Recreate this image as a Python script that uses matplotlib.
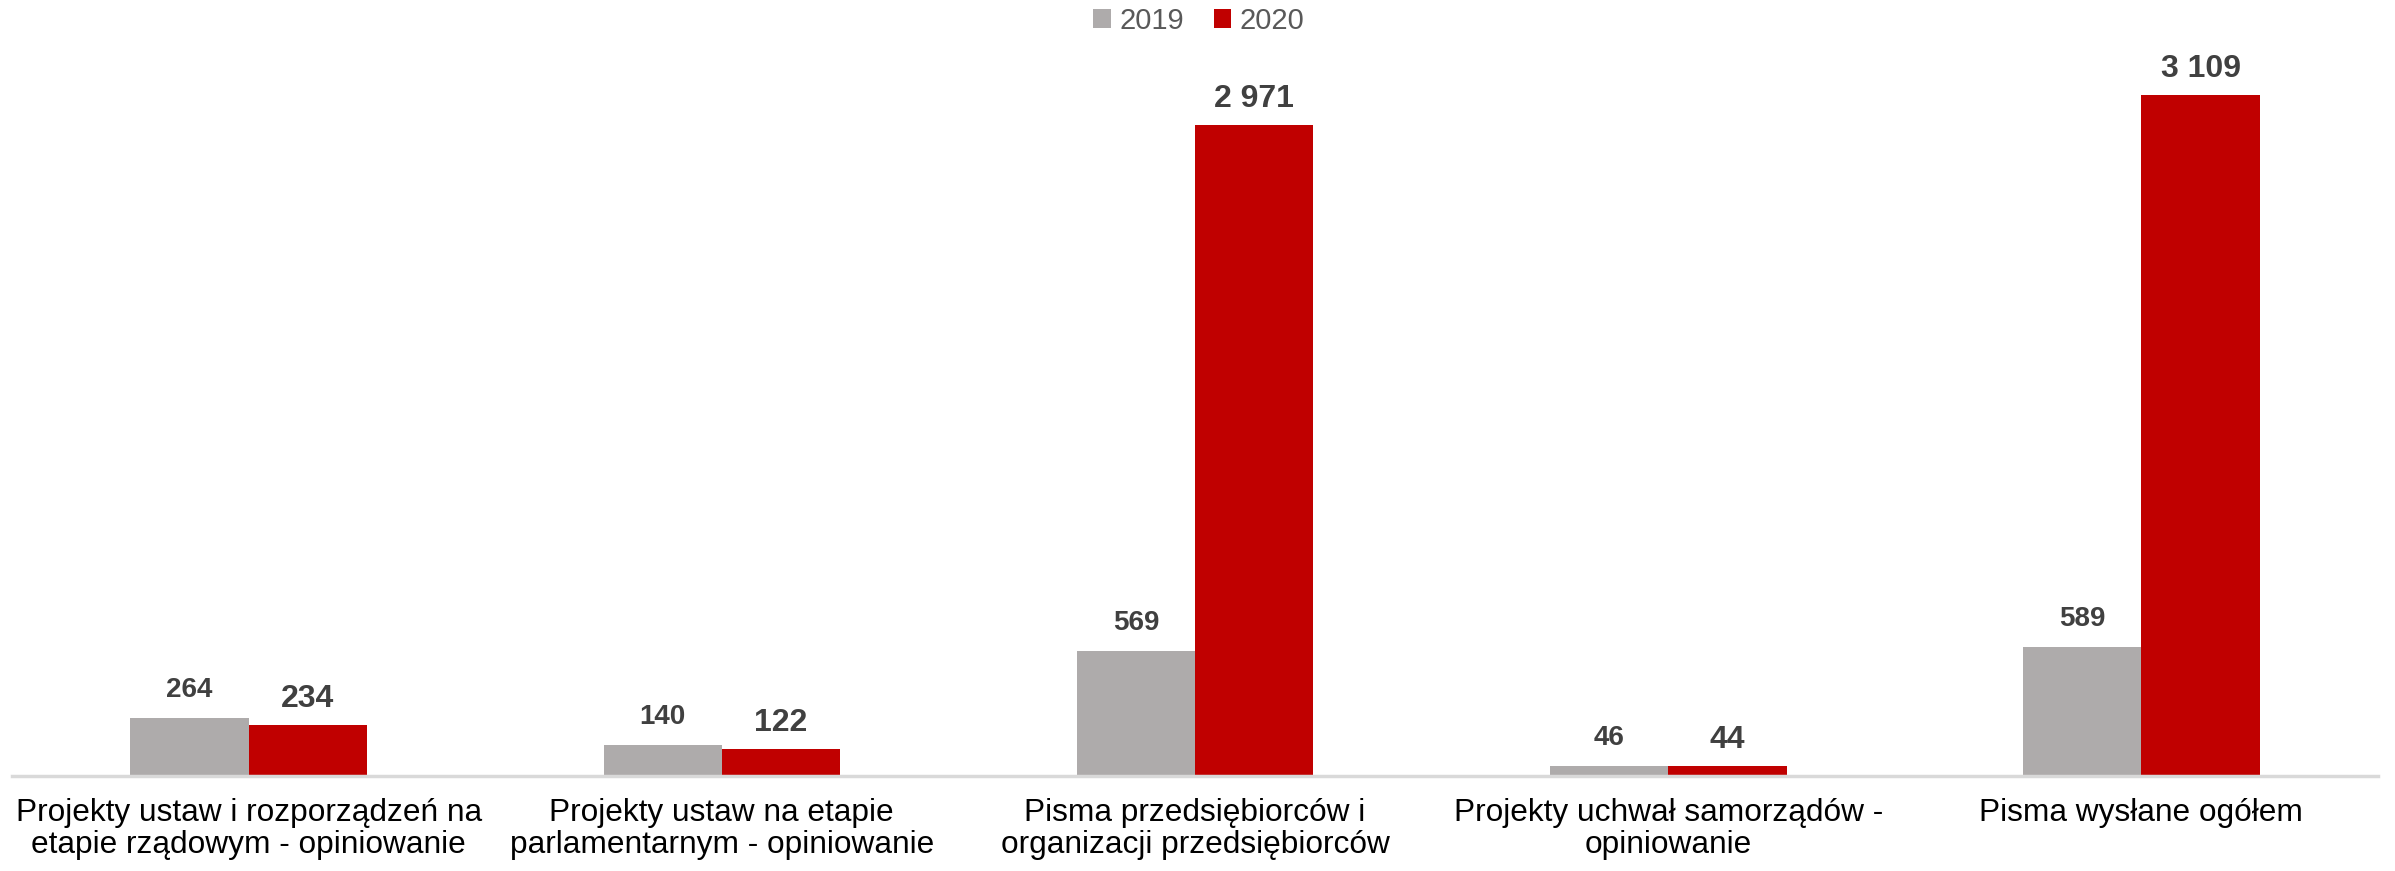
import matplotlib
matplotlib.use("Agg")
import matplotlib.pyplot as plt
import numpy as np
from matplotlib.patches import Patch

plt.rcParams['font.family'] = ['Liberation Sans', 'DejaVu Sans']

categories = [
    "Projekty ustaw i rozporządzeń na\netapie rządowym - opiniowanie",
    "Projekty ustaw na etapie\nparlamentarnym - opiniowanie",
    "Pisma przedsiębiorców i\norganizacji przedsiębiorców",
    "Projekty uchwał samorządów -\nopiniowanie",
    "Pisma wysłane ogółem",
]
values_2019 = [264, 140, 569, 46, 589]
values_2020 = [234, 122, 2971, 44, 3109]
series_names = ["2019", "2020"]
colors = ["#AEABAB", "#C00000"]

def fmt(v):
    return f"{v:,}".replace(",", " ")

fig = plt.figure(figsize=(23.95, 8.71), dpi=100)
ax = fig.add_axes([12/2395, 95/871, 2366/2395, 776/871])
x = np.arange(len(categories))
w = 0.25
b1 = ax.bar(x - w/2, values_2019, w, color=colors[0])
b2 = ax.bar(x + w/2, values_2020, w, color=colors[1])

for rect, v in zip(b1, values_2019):
    ax.annotate(fmt(v), (rect.get_x() + rect.get_width()/2, rect.get_height()),
                xytext=(0, 11), textcoords="offset points", ha="center", va="bottom",
                fontsize=20, fontweight="bold", color="#404040")
for rect, v in zip(b2, values_2020):
    ax.annotate(fmt(v), (rect.get_x() + rect.get_width()/2, rect.get_height()),
                xytext=(0, 8), textcoords="offset points", ha="center", va="bottom",
                fontsize=23, fontweight="bold", color="#404040")

ax.set_xlim(-0.5, len(categories) - 0.5)
ax.set_ylim(0, 3543)
ax.set_xticks(x)
ax.set_xticklabels(categories, fontsize=22.8, color="black", linespacing=1.08)
ax.tick_params(axis="x", length=0, pad=16)
ax.set_yticks([])
for s in ["top", "right", "left"]:
    ax.spines[s].set_visible(False)
ax.spines["bottom"].set_color("#D9D9D9")
ax.spines["bottom"].set_linewidth(2.5)
ax.set_facecolor("none")

handles = [Patch(facecolor=c, edgecolor="none") for c in colors]
fig.legend(handles, series_names, loc="center", bbox_to_anchor=(1199/2395, 1 - 21/871),
           ncol=2, frameon=False, fontsize=21, labelcolor="#595959",
           handlelength=0.6, handleheight=0.6, handletextpad=0.3, columnspacing=1.0)

fig.savefig("out.png", dpi=100)
